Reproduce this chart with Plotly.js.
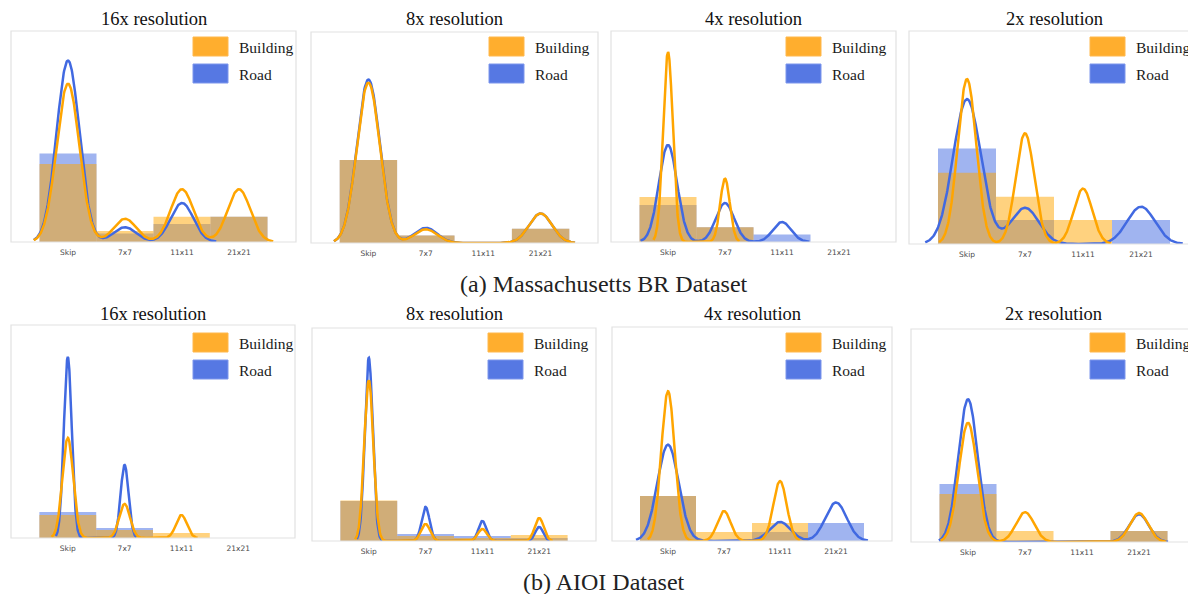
<!DOCTYPE html>
<html>
<head>
<meta charset="utf-8">
<script src="https://cdn.plot.ly/plotly-3.0.1.min.js"></script>
<style>html,body{margin:0;padding:0;background:#fff;}#chart{width:1188px;height:594px;}</style>
</head>
<body>
<div id="chart"></div>
<script>
// ---------------- data ----------------
const categories = ['Skip', '7x7', '11x11', '21x21'];
const resolutions = ['16x resolution', '8x resolution', '4x resolution', '2x resolution'];
const datasetCaptions = ['(a) Massachusetts BR Dataset', '(b) AIOI Dataset'];
const seriesNames = ['Building', 'Road'];

// histogram bar heights (share of axis height), one row per resolution (16x, 8x, 4x, 2x)
const massBuildingHist = [[0.370, 0.052, 0.120, 0.120], [0.393, 0.035, 0.000, 0.068], [0.213, 0.070, 0.000, 0.000], [0.335, 0.222, 0.113, 0.000]];
const massRoadHist     = [[0.420, 0.040, 0.085, 0.120], [0.393, 0.035, 0.000, 0.068], [0.175, 0.070, 0.035, 0.000], [0.448, 0.113, 0.000, 0.113]];
const aioiBuildingHist = [[0.108, 0.038, 0.023, 0.000], [0.190, 0.023, 0.014, 0.028], [0.210, 0.042, 0.084, 0.000], [0.225, 0.052, 0.000, 0.052]];
const aioiRoadHist     = [[0.122, 0.047, 0.000, 0.000], [0.188, 0.033, 0.023, 0.014], [0.210, 0.000, 0.042, 0.084], [0.272, 0.006, 0.000, 0.052]];

// density-curve peak heights at each category
const massBuildingPeak = [[0.750, 0.110, 0.250, 0.250], [0.760, 0.065, 0.000, 0.140], [0.900, 0.300, 0.000, 0.000], [0.774, 0.520, 0.260, 0.000]];
const massRoadPeak     = [[0.860, 0.070, 0.185, 0.000], [0.775, 0.072, 0.000, 0.140], [0.460, 0.185, 0.095, 0.000], [0.680, 0.170, 0.000, 0.175]];
const aioiBuildingPeak = [[0.470, 0.160, 0.108, 0.000], [0.755, 0.080, 0.056, 0.108], [0.700, 0.140, 0.280, 0.000], [0.560, 0.140, 0.000, 0.136]];
const aioiRoadPeak     = [[0.850, 0.343, 0.000, 0.000], [0.860, 0.160, 0.094, 0.066], [0.450, 0.000, 0.089, 0.180], [0.670, 0.000, 0.000, 0.130]];

// density-curve bandwidths (category units)
const massBuildingBw = [0.20, 0.20, 0.085, 0.16];
const massRoadBw     = [0.20, 0.20, 0.16, 0.24];
const aioiBuildingBw = [0.095, 0.08, 0.12, 0.16];
const aioiRoadBw     = [0.07, 0.07, 0.19, 0.17];

// ---------------- layout constants ----------------
const W = 1188, H = 594;
const boxes = [
  [11, 31, 296, 242], [311, 32, 598, 243], [611, 31, 896, 242], [909, 31, 1199, 244],
  [11, 325, 295, 538], [312, 328, 596, 541], [612, 327, 892, 541], [911, 329, 1196, 542]
];
const legendLeft = [193, 489, 786, 1090, 193, 488, 786, 1090];
const legendTop = [37, 37, 37, 37, 333, 333, 333, 333];
const titleY = [19, 314];
const captionY = [284, 582];

const ORANGE = '#FFA500', BLUE = '#4169E1';
const ORANGE_FILL = 'rgba(255,165,0,0.5)', BLUE_FILL = 'rgba(65,105,225,0.5)';
const SERIF = 'Liberation Serif, Times New Roman, serif';

const datasets = [
  {bh: massBuildingHist, rh: massRoadHist, bp: massBuildingPeak, rp: massRoadPeak, bb: massBuildingBw, rb: massRoadBw},
  {bh: aioiBuildingHist, rh: aioiRoadHist, bp: aioiBuildingPeak, rp: aioiRoadPeak, bb: aioiBuildingBw, rb: aioiRoadBw}
];

function density(peaks, bw) {
  let first = -1, last = -1;
  peaks.forEach((p, i) => { if (p > 0) { if (first < 0) first = i; last = i; } });
  const x0 = first - 3 * bw, x1 = last + 3 * bw, n = 500;
  const xs = [], ys = [];
  for (let i = 0; i <= n; i++) {
    const x = x0 + (x1 - x0) * i / n;
    let y = 0;
    peaks.forEach((p, k) => { y += p * Math.exp(-((x - k) * (x - k)) / (2 * bw * bw)); });
    xs.push(x); ys.push(y);
  }
  return {xs, ys};
}

const traces = [];
const layout = {
  width: W, height: H,
  margin: {l: 0, r: 0, t: 0, b: 0},
  paper_bgcolor: '#fff', plot_bgcolor: '#fff',
  showlegend: false, barmode: 'overlay',
  shapes: [], annotations: []
};
const xs4 = [0, 1, 2, 3];

for (let d = 0; d < 2; d++) {
  const ds = datasets[d];
  for (let r = 0; r < 4; r++) {
    const idx = d * 4 + r;
    const n = idx + 1;
    const xa = 'x' + (n === 1 ? '' : n), ya = 'y' + (n === 1 ? '' : n);
    const [l, t, rr, b] = boxes[idx];
    const rVis = Math.min(rr, W);
    layout['xaxis' + (n === 1 ? '' : n)] = {
      domain: [l / W, rVis / W], anchor: ya,
      range: [-1, -1 + 5 * (rVis - l) / (rr - l)],
      tickvals: xs4, ticktext: categories,
      showgrid: false, zeroline: false, showline: false, ticks: '',
      tickfont: {family: 'DejaVu Sans, sans-serif', size: 7.5, color: '#4a4a4a'},
      ticklabelstandoff: 4, fixedrange: true
    };
    layout['yaxis' + (n === 1 ? '' : n)] = {
      domain: [1 - b / H, 1 - t / H], anchor: xa,
      range: [0, 1], visible: false, fixedrange: true
    };
    // bars
    traces.push({type: 'bar', x: xs4, y: ds.rh[r], width: 1, xaxis: xa, yaxis: ya,
      marker: {color: BLUE_FILL, line: {width: 0}}, hoverinfo: 'skip', name: seriesNames[1]});
    traces.push({type: 'bar', x: xs4, y: ds.bh[r], width: 1, xaxis: xa, yaxis: ya,
      marker: {color: ORANGE_FILL, line: {width: 0}}, hoverinfo: 'skip', name: seriesNames[0]});
    // curves
    const rc = density(ds.rp[r], ds.rb[r]);
    const bc = density(ds.bp[r], ds.bb[r]);
    traces.push({type: 'scatter', mode: 'lines', x: rc.xs, y: rc.ys, xaxis: xa, yaxis: ya,
      line: {color: BLUE, width: 2.5}, hoverinfo: 'skip', name: seriesNames[1]});
    traces.push({type: 'scatter', mode: 'lines', x: bc.xs, y: bc.ys, xaxis: xa, yaxis: ya,
      line: {color: ORANGE, width: 2.5}, hoverinfo: 'skip', name: seriesNames[0]});
    // frame
    layout.shapes.push({type: 'rect', xref: 'paper', yref: 'paper', layer: 'above',
      x0: l / W, x1: rr / W, y0: 1 - b / H, y1: 1 - t / H,
      line: {color: '#E2E2E2', width: 1.2}, fillcolor: 'rgba(0,0,0,0)'});
    // legend patches
    const lx = legendLeft[idx], ly = legendTop[idx];
    const patches = [[ORANGE, '#FFB84D', '#FFAE2E'], [BLUE, '#7D96EC', '#5678E3']];
    for (let s = 0; s < 2; s++) {
      const py = ly + s * 27;
      layout.shapes.push({type: 'rect', xref: 'paper', yref: 'paper', layer: 'above',
        x0: lx / W, x1: (lx + 35) / W, y0: 1 - (py + 19) / H, y1: 1 - py / H,
        line: {color: patches[s][1], width: 1}, fillcolor: patches[s][2]});
      layout.annotations.push({xref: 'paper', yref: 'paper', x: (lx + 44) / W, y: 1 - (py + 10) / H,
        xanchor: 'left', yanchor: 'middle', showarrow: false, text: seriesNames[s],
        font: {family: SERIF, size: 15.5, color: '#1a1a1a'}});
    }
    // panel title
    layout.annotations.push({xref: 'paper', yref: 'paper', x: ((l + rr) / 2) / W, y: 1 - titleY[d] / H,
      xanchor: 'center', yanchor: 'middle', showarrow: false, text: resolutions[r],
      font: {family: SERIF, size: 18.5, color: '#111'}});
  }
  layout.annotations.push({xref: 'paper', yref: 'paper', x: 604 / W, y: 1 - captionY[d] / H,
    xanchor: 'center', yanchor: 'middle', showarrow: false, text: datasetCaptions[d],
    font: {family: SERIF, size: 24, color: '#222'}});
}

Plotly.newPlot('chart', traces, layout, {staticPlot: true, displayModeBar: false});
</script>
</body>
</html>
